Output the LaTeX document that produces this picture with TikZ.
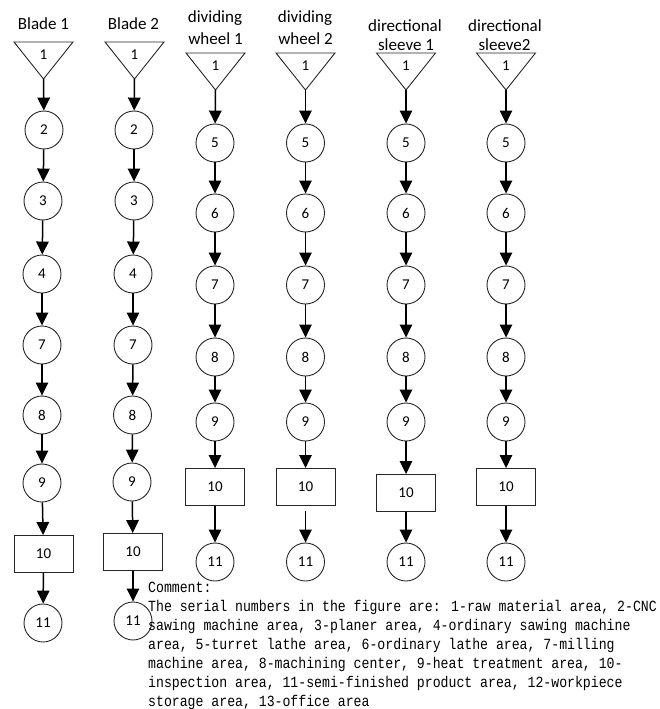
\documentclass[tikz,border=0pt]{standalone}
\usepackage{fontspec}
\setmainfont{Carlito}
\newfontfamily\monofnt[FakeStretch=0.85]{Liberation Mono}
\usetikzlibrary{arrows.meta}
\begin{document}
\begin{tikzpicture}[x=1pt,y=-1pt,
  circ/.style={circle,draw=black!85,line width=0.9pt,minimum size=38pt,inner sep=0pt,font=\fontsize{15}{15}\selectfont},
  boxn/.style={rectangle,draw=black!85,line width=0.9pt,minimum width=59pt,minimum height=37pt,inner sep=0pt,font=\fontsize{15}{15}\selectfont},
  trin/.style={line width=0.9pt,draw=black!85},
  tlab/.style={font=\fontsize{15}{15}\selectfont,inner sep=0pt},
  flow/.style={-{Triangle[width=12.5pt,length=13pt]},line width=1.5pt},
  head/.style={font=\fontsize{17}{17}\selectfont,anchor=base,inner sep=0pt},
  cmt/.style={font=\monofnt\fontsize{15.5}{19}\selectfont,anchor=base west,inner sep=0pt}]
\useasboundingbox (0,0) rectangle (659,709);

% headers
\node[head] (hA) at (43.5,29.5) {Blade 1};
\node[head] (hB) at (133.5,29.5) {Blade 2};
\node[head] (hC1) at (215,22.5) {dividing};
\node[head] (hC2) at (215.5,45) {wheel 1};
\node[head] (hD1) at (305,22.5) {dividing};
\node[head] (hD2) at (305.5,45) {wheel 2};
\node[head] (hE1) at (405,31.5) {directional};
\node[head] (hE2) at (406,51) {sleeve 1};
\node[head] (hF1) at (505,31.5) {directional};
\node[head] (hF2) at (504.5,51) {sleeve2};

% triangles (raw material area)
\foreach \n/\x/\t in {a/43.5/42, b/134.5/42, c/215.5/53, d/305.5/53, e/406/53, f/506/53}{
  \draw[trin] ({\x-29.5},\t) -- ({\x+29.5},\t) -- (\x,{\t+37}) -- cycle;
  \coordinate (\n1) at (\x,{\t+37});
  \node[tlab] (\n1l) at (\x,{\t+13}) {1};
}

% Blade 1
\node[circ] (a2) at (44,130) {2};
\node[circ] (a3) at (43,201) {3};
\node[circ] (a4) at (42,274) {4};
\node[circ] (a7) at (42,345) {7};
\node[circ] (a8) at (42,415) {8};
\node[circ] (a9) at (42,483) {9};
\node[boxn] (a10) at (43.5,554) {10};
\node[circ] (a11) at (43,623) {11};

% Blade 2
\node[circ] (b2) at (134,130) {2};
\node[circ] (b3) at (134,201) {3};
\node[circ] (b4) at (133,274) {4};
\node[circ] (b7) at (133,345) {7};
\node[circ] (b8) at (132.5,415) {8};
\node[circ] (b9) at (132,482) {9};
\node[boxn] (b10) at (133,552) {10};
\node[circ] (b11) at (133,621) {11};

\foreach \n in {a,b}{
  \draw[flow] (\n1) -- (\n2);
  \draw[flow] (\n2) -- (\n3);
  \draw[flow] (\n3) -- (\n4);
  \draw[flow] (\n4) -- (\n7);
  \draw[flow] (\n7) -- (\n8);
  \draw[flow] (\n8) -- (\n9);
  \draw[flow] (\n9) -- (\n10);
  \draw[flow] (\n10) -- (\n11);
}

% dividing wheels and directional sleeves
\foreach \n/\x/\bx in {c/215/487, d/305.5/487, e/406/493, f/506/487}{
  \node[circ] (\n5) at (\x,143) {5};
  \node[circ] (\n6) at (\x,213) {6};
  \node[circ] (\n7) at (\x,285) {7};
  \node[circ] (\n8) at (\x,357) {8};
  \node[circ] (\n9) at (\x,422) {9};
  \node[boxn] (\n10) at (\x,\bx) {10};
  \node[circ] (\n11) at (\x,562) {11};
  \draw[flow] (\n1) -- (\n5);
  \draw[flow] (\n5) -- (\n6);
  \draw[flow] (\n6) -- (\n7);
  \draw[flow] (\n7) -- (\n8);
  \draw[flow] (\n8) -- (\n9);
  \draw[flow] (\n9) -- (\n10);
}
\draw[flow] (c10) -- (c11);
\draw[flow,shorten <=5pt] (d10) -- (d11);
\draw[flow] (e10) -- (e11);
\draw[flow] (f10) -- (f11);

% comment
\node[cmt] (k0) at (148,592) {Comment:};
\node[cmt] (k1) at (148,611.5) {The serial numbers in the figure are: 1-raw material area, 2-CNC};
\node[cmt] (k2) at (148,630.5) {sawing machine area, 3-planer area, 4-ordinary sawing machine};
\node[cmt] (k3) at (148,649.5) {area, 5-turret lathe area, 6-ordinary lathe area, 7-milling};
\node[cmt] (k4) at (148,668.5) {machine area, 8-machining center, 9-heat treatment area, 10-};
\node[cmt] (k5) at (148,687.5) {inspection area, 11-semi-finished product area, 12-workpiece};
\node[cmt] (k6) at (148,706.5) {storage area, 13-office area};
\end{tikzpicture}
\end{document}
